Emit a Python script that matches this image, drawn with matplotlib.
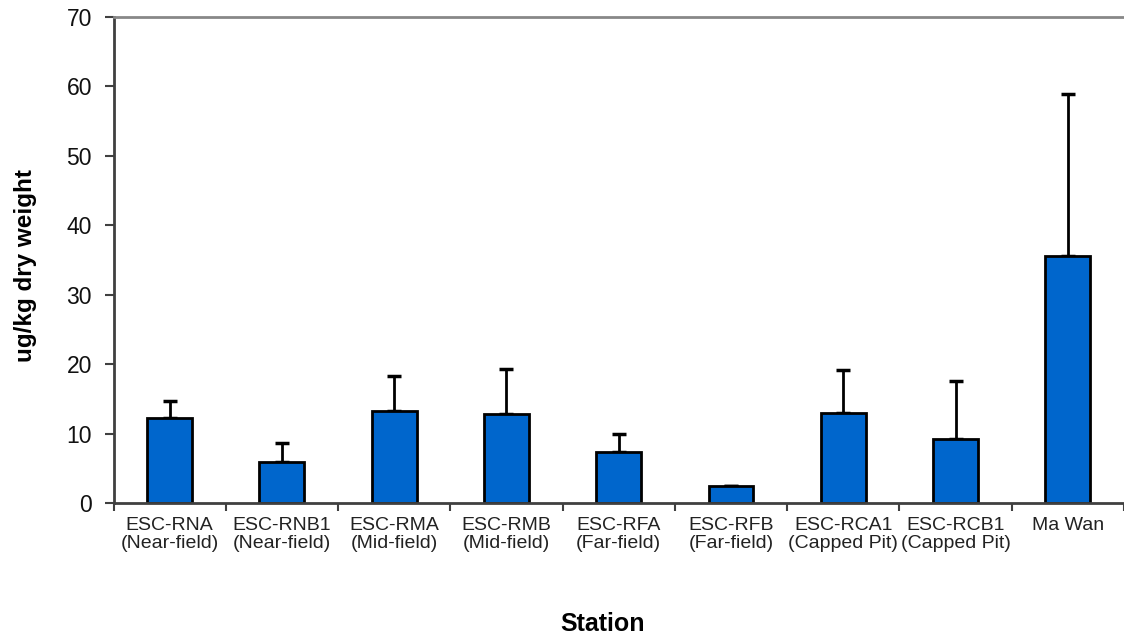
import numpy as np
import matplotlib.pyplot as plt

plt.rcParams['font.family'] = ['Liberation Sans', 'DejaVu Sans']

# Dados
stations = ['ESC-RNA\n(Near-field)', 'ESC-RNB1\n(Near-field)', 'ESC-RMA\n(Mid-field)',
            'ESC-RMB\n(Mid-field)', 'ESC-RFA\n(Far-field)', 'ESC-RFB\n(Far-field)',
            'ESC-RCA1\n(Capped Pit)', 'ESC-RCB1\n(Capped Pit)', 'Ma Wan']
means = [12.2, 5.9, 13.3, 12.8, 7.3, 2.4, 13.0, 9.2, 35.6]
errors_up = [2.5, 2.7, 5.0, 6.5, 2.6, 0.0, 6.1, 8.4, 23.3]

x = np.arange(len(stations))

fig = plt.figure(figsize=(11.24, 6.37), dpi=100)
ax = fig.add_axes([0.101, 0.2104, 0.899, 0.7629])

ax.bar(x, means, width=0.4, color='#0066CC', edgecolor='black', linewidth=2, zorder=2)
ax.errorbar(x, means, yerr=[np.zeros(len(means)), errors_up], fmt='none',
            ecolor='black', elinewidth=2, capsize=5, capthick=2.5, zorder=1)

ax.set_xlim(-0.5, len(stations) - 0.5)
ax.set_ylim(0, 70)
ax.set_yticks(np.arange(0, 71, 10))

# rótulos no centro, marcas entre categorias
ax.set_xticks(x)
ax.set_xticklabels(stations, fontsize=14, color='#222222', linespacing=1.1)
ax.tick_params(axis='x', length=0, pad=10)
ax.set_xticks(np.arange(-0.5, len(stations), 1), minor=True)
ax.tick_params(axis='x', which='minor', length=6, width=1.5, color='#404040', direction='out')
ax.tick_params(axis='y', labelsize=16.5, labelcolor='#111111', length=6.5, width=1.5,
               color='#404040', pad=9)

for side in ['left', 'bottom']:
    ax.spines[side].set_color('#404040')
    ax.spines[side].set_linewidth(2)
ax.spines['top'].set_color('#888888')
ax.spines['top'].set_linewidth(2)
ax.spines['right'].set_visible(False)

ax.set_ylabel('ug/kg dry weight', fontsize=17.5, fontweight='bold')
ax.yaxis.set_label_coords(-0.076, 0.489)
fig.text(0.536, 0.0204, 'Station', fontsize=18, fontweight='bold', ha='center', va='center')

fig.savefig('out.png', dpi=100)
